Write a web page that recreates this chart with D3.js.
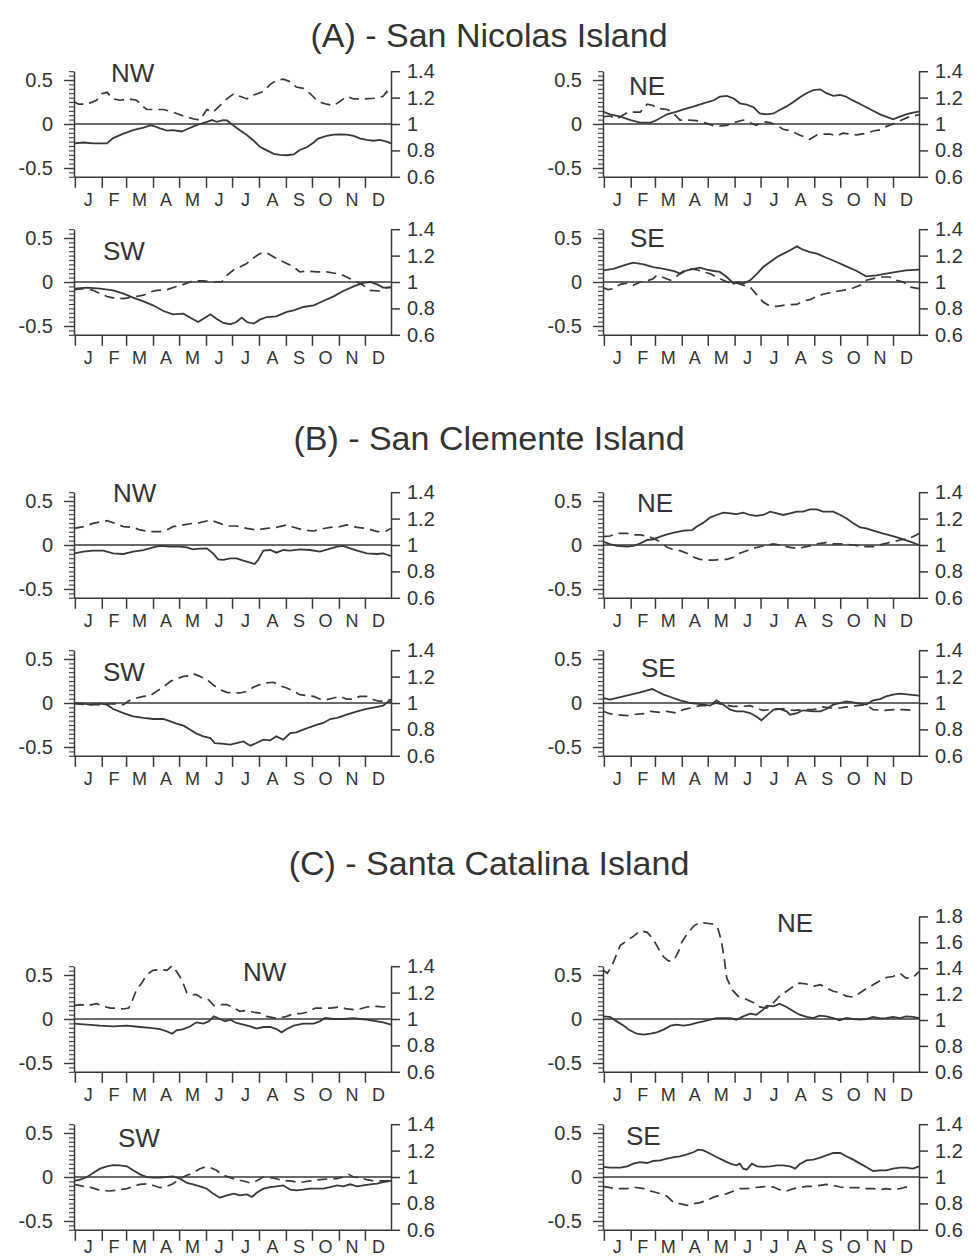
<!DOCTYPE html>
<html><head><meta charset="utf-8">
<script src="https://cdn.jsdelivr.net/npm/d3@7"></script>
<style>
body{margin:0;background:#fff}
svg{display:block}
text{font-family:"Liberation Sans",Arial,sans-serif;fill:#333}
</style>
</head><body>
<svg id="chart" width="978" height="1258"></svg>
<script>
// ---------- categories / ticks ----------
const months = ["J","F","M","A","M","J","J","A","S","O","N","D"];
const monthStarts = [1,32,60,91,121,152,182,213,244,274,305,335];
const leftTicks = [-0.5, 0, 0.5];
const rightTicks = [0.6, 0.8, 1, 1.2, 1.4];
const rightTicksTall = [0.6, 0.8, 1, 1.2, 1.4, 1.6, 1.8];
const titles = ["(A) - San Nicolas Island", "(B) - San Clemente Island", "(C) - Santa Catalina Island"];
const sectors = ["NW", "NE", "SW", "SE"];

// ---------- series: [day of year, value] ----------
// (A) San Nicolas Island
const A_NW_solid = [[0,-0.22],[11,-0.21],[22,-0.22],[38,-0.22],[45,-0.16],[57,-0.11],[68,-0.07],[80,-0.04],[88,-0.015],[91,-0.02],[99,-0.05],[107,-0.075],[114,-0.07],[124,-0.085],[130,-0.06],[137,-0.03],[145,0],[153,0.025],[159,0.045],[164,0.025],[172,0.045],[176,0.04],[184,-0.02],[191,-0.07],[199,-0.125],[207,-0.19],[214,-0.26],[222,-0.30],[230,-0.34],[237,-0.35],[245,-0.355],[253,-0.345],[260,-0.295],[268,-0.265],[276,-0.21],[281,-0.165],[291,-0.135],[299,-0.12],[306,-0.117],[314,-0.12],[322,-0.135],[329,-0.163],[337,-0.18],[345,-0.19],[352,-0.18],[360,-0.2],[365,-0.22]];
const A_NW_dash = [[0,1.17],[5,1.15],[15,1.15],[26,1.18],[32,1.23],[38,1.24],[45,1.19],[53,1.18],[63,1.19],[72,1.18],[80,1.13],[84,1.11],[91,1.11],[103,1.11],[114,1.09],[126,1.06],[137,1.04],[145,1.03],[153,1.11],[160,1.09],[168,1.14],[176,1.19],[184,1.23],[191,1.21],[199,1.19],[207,1.22],[218,1.245],[226,1.30],[233,1.33],[241,1.34],[249,1.32],[256,1.28],[264,1.27],[272,1.23],[281,1.17],[291,1.15],[299,1.14],[306,1.17],[314,1.21],[322,1.19],[333,1.19],[345,1.195],[356,1.21],[360,1.245],[364,1.195]];
const A_NE_solid = [[0,0.14],[8,0.11],[20,0.083],[32,0.045],[43,0.015],[55,0.015],[62,0.045],[74,0.11],[85,0.14],[93,0.167],[105,0.2],[116,0.235],[128,0.27],[135,0.31],[143,0.32],[151,0.29],[158,0.235],[166,0.22],[174,0.19],[181,0.12],[189,0.11],[197,0.12],[204,0.16],[212,0.2],[220,0.25],[227,0.3],[235,0.35],[243,0.386],[251,0.394],[258,0.35],[266,0.32],[274,0.33],[281,0.31],[289,0.265],[297,0.227],[304,0.19],[312,0.15],[320,0.11],[327,0.083],[335,0.053],[343,0.083],[350,0.11],[358,0.13],[365,0.14]];
const A_NE_dash = [[0,1.055],[8,1.06],[16,1.04],[28,1.086],[35,1.09],[43,1.09],[51,1.15],[58,1.14],[62,1.12],[74,1.11],[80,1.09],[89,1.03],[97,1.03],[108,1.025],[120,1.005],[128,0.985],[135,0.985],[143,0.99],[151,1.01],[162,1.03],[170,1.01],[177,0.99],[185,1.018],[193,1.01],[201,0.99],[208,0.96],[216,0.95],[227,0.917],[239,0.884],[247,0.917],[254,0.924],[262,0.924],[270,0.91],[277,0.93],[285,0.924],[293,0.917],[304,0.93],[312,0.947],[320,0.955],[327,0.98],[335,1.0],[343,1.025],[354,1.055],[365,1.07]];
const A_SW_solid = [[0,-0.076],[15,-0.064],[30,-0.076],[45,-0.095],[57,-0.133],[68,-0.178],[80,-0.22],[91,-0.265],[103,-0.33],[114,-0.367],[126,-0.36],[136,-0.417],[143,-0.455],[149,-0.417],[157,-0.367],[164,-0.417],[172,-0.466],[180,-0.48],[187,-0.455],[193,-0.405],[199,-0.455],[207,-0.473],[214,-0.428],[222,-0.398],[233,-0.39],[245,-0.34],[253,-0.322],[264,-0.284],[276,-0.265],[287,-0.216],[299,-0.163],[310,-0.102],[322,-0.05],[333,-0.011],[341,0],[349,-0.027],[356,-0.064],[365,-0.064]];
const A_SW_dash = [[0,0.942],[11,0.95],[22,0.937],[30,0.912],[38,0.89],[45,0.88],[57,0.874],[68,0.886],[80,0.9],[88,0.924],[95,0.937],[107,0.942],[116,0.962],[126,0.982],[137,1.008],[149,1.008],[161,1.0],[170,1.0],[176,1.05],[184,1.093],[191,1.114],[199,1.14],[207,1.184],[214,1.215],[222,1.22],[230,1.19],[237,1.164],[245,1.14],[253,1.114],[260,1.076],[268,1.083],[280,1.076],[291,1.076],[303,1.063],[310,1.05],[318,1.025],[326,1.0],[333,0.975],[341,0.937],[352,0.932],[360,0.957],[365,0.962]];
const A_SE_solid = [[0,0.133],[12,0.15],[24,0.19],[35,0.22],[47,0.2],[58,0.17],[70,0.15],[82,0.125],[89,0.095],[97,0.133],[105,0.15],[112,0.163],[120,0.14],[128,0.125],[135,0.114],[143,0.057],[151,-0.019],[156,0],[162,-0.019],[170,0.019],[178,0.095],[185,0.17],[193,0.227],[201,0.284],[208,0.32],[216,0.36],[224,0.405],[231,0.367],[239,0.34],[247,0.322],[258,0.276],[270,0.227],[281,0.178],[293,0.125],[304,0.064],[316,0.076],[327,0.095],[339,0.114],[350,0.133],[365,0.14]];
const A_SE_dash = [[0,0.957],[6,0.942],[12,0.95],[20,0.982],[28,0.992],[35,0.975],[43,1.0],[51,1.008],[58,1.025],[62,1.05],[68,1.038],[78,1.013],[85,1.043],[93,1.083],[101,1.1],[108,1.093],[116,1.076],[124,1.063],[131,1.038],[139,1.013],[147,0.992],[154,0.992],[162,0.975],[170,0.962],[178,0.9],[185,0.848],[193,0.816],[201,0.816],[208,0.823],[216,0.828],[224,0.83],[231,0.856],[239,0.866],[247,0.891],[254,0.907],[266,0.924],[277,0.937],[285,0.944],[297,0.975],[304,1.013],[312,1.025],[320,1.038],[331,1.038],[339,1.013],[347,1.0],[354,0.962],[365,0.95]];
// (B) San Clemente Island
const B_NW_solid = [[0,-0.095],[11,-0.076],[22,-0.064],[34,-0.064],[45,-0.095],[57,-0.102],[68,-0.076],[80,-0.057],[91,-0.027],[99,-0.011],[111,-0.019],[122,-0.019],[130,-0.027],[137,-0.05],[145,-0.042],[153,-0.038],[160,-0.095],[166,-0.163],[172,-0.17],[180,-0.152],[187,-0.152],[195,-0.178],[203,-0.2],[208,-0.216],[212,-0.17],[218,-0.064],[226,-0.057],[233,-0.087],[241,-0.057],[249,-0.064],[260,-0.05],[272,-0.057],[283,-0.076],[295,-0.042],[303,-0.019],[310,-0.011],[318,-0.038],[326,-0.064],[337,-0.095],[349,-0.102],[356,-0.095],[365,-0.125]];
const B_NW_dash = [[0,1.126],[11,1.139],[22,1.164],[38,1.184],[45,1.169],[57,1.139],[68,1.134],[76,1.114],[88,1.101],[99,1.101],[107,1.114],[114,1.139],[126,1.152],[137,1.164],[145,1.169],[157,1.189],[168,1.164],[176,1.144],[187,1.144],[199,1.126],[210,1.114],[222,1.126],[233,1.134],[245,1.152],[253,1.134],[264,1.114],[276,1.106],[283,1.119],[295,1.134],[306,1.139],[314,1.152],[326,1.134],[337,1.126],[349,1.101],[360,1.106],[365,1.126]];
const B_NE_solid = [[0,0.038],[8,0.011],[16,-0.011],[28,-0.019],[35,-0.011],[43,0.019],[51,0.057],[58,0.064],[66,0.095],[74,0.121],[82,0.14],[93,0.163],[103,0.17],[108,0.208],[116,0.254],[124,0.314],[131,0.341],[139,0.367],[147,0.36],[154,0.352],[162,0.367],[170,0.341],[177,0.33],[185,0.341],[193,0.379],[201,0.36],[208,0.341],[216,0.36],[224,0.379],[231,0.379],[239,0.405],[247,0.405],[254,0.379],[266,0.379],[274,0.341],[281,0.303],[289,0.246],[297,0.2],[304,0.19],[312,0.163],[323,0.133],[335,0.102],[347,0.064],[358,0.027],[365,0]];
const B_NE_dash = [[0,1.063],[8,1.068],[16,1.088],[28,1.088],[35,1.076],[43,1.076],[51,1.068],[58,1.05],[66,1.025],[74,0.982],[82,0.962],[89,0.957],[97,0.937],[105,0.907],[112,0.891],[120,0.886],[128,0.886],[135,0.891],[143,0.891],[151,0.907],[158,0.937],[166,0.957],[174,0.975],[181,0.987],[189,1.0],[197,1.008],[204,1.0],[216,0.982],[224,0.975],[231,0.982],[243,1.0],[251,1.013],[258,1.018],[266,1.008],[277,1.008],[289,1.0],[300,0.987],[312,0.987],[324,1.008],[335,1.025],[343,1.038],[354,1.05],[362,1.076],[365,1.088]];
const B_SW_solid = [[0,0],[11,-0.008],[18,-0.019],[30,-0.008],[38,-0.019],[45,-0.068],[57,-0.114],[68,-0.152],[80,-0.17],[91,-0.182],[103,-0.182],[111,-0.208],[118,-0.235],[126,-0.258],[134,-0.303],[141,-0.348],[149,-0.379],[157,-0.398],[162,-0.455],[170,-0.462],[180,-0.473],[187,-0.455],[195,-0.436],[203,-0.485],[210,-0.455],[218,-0.417],[226,-0.424],[233,-0.379],[241,-0.417],[249,-0.341],[256,-0.333],[264,-0.303],[272,-0.273],[280,-0.246],[287,-0.227],[295,-0.182],[303,-0.17],[314,-0.133],[326,-0.095],[337,-0.068],[349,-0.045],[356,-0.03],[362,0.019],[365,0.019]];
const B_SW_dash = [[0,0.995],[15,0.987],[30,0.987],[45,0.995],[57,0.987],[64,1.02],[72,1.038],[80,1.05],[88,1.056],[95,1.088],[103,1.121],[111,1.164],[118,1.182],[126,1.202],[134,1.207],[137,1.222],[145,1.202],[153,1.177],[160,1.139],[168,1.101],[176,1.081],[184,1.076],[191,1.076],[199,1.088],[207,1.121],[214,1.139],[222,1.152],[230,1.157],[237,1.131],[245,1.114],[253,1.088],[260,1.063],[268,1.056],[276,1.05],[283,1.03],[291,1.025],[299,1.038],[306,1.05],[314,1.03],[322,1.03],[329,1.05],[337,1.05],[345,1.025],[352,1.013],[360,1.02],[365,1.025]];
const B_SE_solid = [[0,0.057],[8,0.038],[20,0.068],[32,0.095],[43,0.121],[51,0.144],[57,0.159],[62,0.133],[70,0.095],[78,0.068],[89,0.03],[101,0],[108,-0.008],[116,-0.019],[124,-0.03],[131,0.03],[139,-0.019],[147,-0.076],[154,-0.095],[162,-0.095],[170,-0.114],[178,-0.159],[183,-0.197],[189,-0.144],[197,-0.076],[204,-0.068],[212,-0.095],[216,-0.133],[224,-0.114],[231,-0.083],[243,-0.095],[251,-0.095],[258,-0.068],[266,-0.019],[274,0],[281,0.019],[289,0.008],[297,-0.008],[304,-0.019],[312,0.03],[320,0.045],[327,0.076],[335,0.095],[343,0.106],[354,0.095],[365,0.083]];
const B_SE_dash = [[0,0.937],[8,0.919],[16,0.912],[28,0.904],[35,0.912],[47,0.919],[55,0.937],[66,0.929],[74,0.937],[85,0.924],[93,0.95],[101,0.962],[112,0.98],[120,0.98],[131,1.0],[139,0.987],[150,0.975],[162,0.975],[170,0.98],[177,0.962],[185,0.944],[193,0.95],[201,0.955],[208,0.955],[220,0.944],[231,0.95],[243,0.95],[254,0.97],[262,0.962],[274,0.962],[281,0.97],[293,0.98],[304,0.987],[312,0.95],[324,0.944],[335,0.95],[347,0.95],[358,0.944]];
// (C) Santa Catalina Island
const C_NW_solid = [[0,-0.053],[15,-0.064],[30,-0.076],[45,-0.083],[61,-0.076],[76,-0.091],[88,-0.102],[99,-0.114],[107,-0.14],[113,-0.167],[118,-0.129],[126,-0.114],[134,-0.083],[141,-0.038],[149,-0.053],[155,-0.027],[161,0.03],[168,0],[174,-0.027],[180,-0.008],[187,-0.045],[195,-0.064],[203,-0.083],[210,-0.11],[218,-0.091],[226,-0.091],[233,-0.114],[239,-0.152],[245,-0.114],[253,-0.076],[264,-0.053],[276,-0.053],[283,-0.027],[289,0.011],[299,0],[310,0],[322,0.011],[329,0],[337,-0.008],[349,-0.027],[356,-0.038],[365,-0.064]];
const C_NW_dash = [[0,1.101],[7,1.109],[15,1.101],[26,1.116],[34,1.096],[42,1.083],[49,1.083],[57,1.076],[63,1.083],[66,1.121],[72,1.222],[78,1.273],[84,1.336],[91,1.369],[99,1.374],[107,1.369],[113,1.404],[118,1.361],[124,1.298],[130,1.197],[136,1.184],[141,1.184],[147,1.159],[155,1.146],[161,1.101],[168,1.109],[176,1.109],[184,1.083],[191,1.058],[199,1.066],[207,1.051],[214,1.045],[222,1.02],[230,1.008],[237,1.008],[245,1.02],[253,1.04],[260,1.04],[268,1.051],[278,1.083],[287,1.083],[295,1.083],[306,1.091],[314,1.076],[322,1.071],[329,1.076],[337,1.091],[349,1.096],[356,1.091],[365,1.101]];
const C_NE_solid = [[0,0.03],[8,0.023],[16,-0.027],[24,-0.076],[31,-0.129],[39,-0.167],[47,-0.178],[55,-0.167],[62,-0.152],[70,-0.121],[78,-0.076],[85,-0.064],[93,-0.076],[101,-0.064],[108,-0.045],[116,-0.027],[124,-0.008],[131,0.011],[139,0.011],[147,0.011],[154,-0.008],[162,0.03],[170,0.061],[177,0.049],[185,0.106],[189,0.152],[197,0.144],[204,0.174],[212,0.136],[220,0.087],[227,0.049],[235,0.023],[243,0.011],[250,0.038],[258,0.03],[266,0.011],[273,-0.015],[281,0.011],[289,0],[297,-0.008],[304,0],[312,0.023],[320,0.008],[327,0.011],[335,0.023],[343,0.011],[350,0.03],[358,0.023],[365,0.011]];
const C_NE_dash = [[0,1.386],[5,1.361],[10,1.412],[16,1.513],[20,1.576],[28,1.614],[35,1.646],[43,1.689],[51,1.677],[58,1.626],[64,1.551],[70,1.487],[76,1.455],[82,1.462],[87,1.525],[91,1.601],[97,1.664],[105,1.727],[112,1.753],[120,1.747],[128,1.74],[133,1.702],[137,1.601],[140,1.475],[143,1.323],[149,1.235],[156,1.184],[166,1.159],[174,1.134],[181,1.101],[189,1.091],[197,1.134],[204,1.184],[212,1.222],[220,1.26],[227,1.285],[235,1.278],[243,1.26],[251,1.273],[258,1.247],[266,1.222],[274,1.21],[281,1.184],[289,1.177],[297,1.21],[304,1.242],[312,1.273],[320,1.303],[327,1.328],[335,1.336],[343,1.361],[350,1.323],[358,1.328],[365,1.374]];
const C_SW_solid = [[0,-0.045],[7,-0.03],[15,0],[22,0.045],[30,0.095],[38,0.121],[45,0.136],[53,0.133],[61,0.121],[68,0.076],[76,0.03],[84,0],[91,-0.008],[99,-0.008],[107,0],[114,0.008],[122,-0.019],[130,-0.068],[137,-0.083],[145,-0.106],[153,-0.133],[160,-0.189],[168,-0.235],[176,-0.208],[184,-0.189],[191,-0.208],[199,-0.197],[205,-0.227],[210,-0.182],[218,-0.133],[226,-0.114],[233,-0.106],[241,-0.095],[249,-0.144],[256,-0.152],[264,-0.144],[272,-0.133],[280,-0.133],[287,-0.133],[295,-0.114],[303,-0.095],[310,-0.106],[318,-0.083],[326,-0.106],[333,-0.095],[341,-0.083],[349,-0.076],[356,-0.057],[365,-0.045]];
const C_SW_dash = [[0,0.944],[11,0.929],[18,0.924],[30,0.899],[41,0.894],[53,0.904],[61,0.912],[68,0.929],[76,0.944],[84,0.949],[91,0.937],[99,0.919],[107,0.929],[114,0.949],[122,0.987],[130,1.013],[137,1.03],[145,1.063],[151,1.076],[157,1.071],[164,1.051],[172,1.013],[180,0.995],[187,0.98],[195,0.97],[203,0.955],[210,0.97],[218,1.0],[226,0.995],[233,0.987],[241,0.97],[249,0.97],[256,0.962],[264,0.962],[272,0.97],[283,0.98],[295,0.987],[303,0.987],[310,1.0],[316,1.02],[322,1.0],[329,0.995],[337,0.98],[345,0.97],[352,0.97],[360,0.97],[365,0.975]];
const C_SE_solid = [[0,0.114],[8,0.106],[20,0.106],[28,0.121],[35,0.152],[43,0.17],[51,0.159],[58,0.182],[66,0.189],[74,0.208],[82,0.227],[89,0.235],[97,0.258],[105,0.284],[110,0.311],[116,0.303],[124,0.265],[131,0.227],[139,0.189],[147,0.152],[154,0.133],[158,0.152],[162,0.095],[166,0.083],[172,0.152],[178,0.121],[185,0.114],[193,0.121],[201,0.133],[208,0.133],[216,0.121],[222,0.095],[227,0.144],[235,0.189],[243,0.197],[251,0.22],[258,0.246],[266,0.273],[274,0.273],[281,0.235],[289,0.197],[297,0.152],[304,0.114],[312,0.068],[320,0.076],[327,0.076],[335,0.095],[343,0.106],[350,0.106],[358,0.095],[365,0.121]];
const C_SE_dash = [[0,0.929],[8,0.919],[16,0.912],[28,0.912],[35,0.924],[47,0.912],[55,0.894],[66,0.874],[74,0.854],[82,0.803],[89,0.798],[97,0.785],[105,0.798],[112,0.806],[120,0.823],[128,0.848],[135,0.861],[143,0.874],[151,0.894],[158,0.912],[166,0.912],[174,0.919],[181,0.924],[189,0.929],[197,0.924],[204,0.904],[212,0.894],[220,0.912],[227,0.919],[235,0.929],[243,0.929],[251,0.937],[258,0.944],[266,0.937],[274,0.924],[281,0.919],[289,0.919],[297,0.919],[304,0.912],[312,0.912],[320,0.904],[327,0.912],[335,0.904],[343,0.912],[350,0.924],[358,0.929]];

// ---------- layout ----------
const colX = [[74, 391], [603, 919]];
const rowZero = [[124, 282], [545, 703], [1019, 1177]];
const titleY = [47, 450, 875];
const half = 52.8; // px for 0.6 on the left axis
const labelPos = {
  A: {NW:[37,-42], NE:[26,-29], SW:[29,-22], SE:[27,-35]},
  B: {NW:[39,-43], NE:[34,-33], SW:[29,-22], SE:[38,-26]},
  C: {NW:[169,-38], NE:[174,-87], SW:[44,-30], SE:[23,-32]}
};
const seriesData = {
  A: {NW:[A_NW_solid,A_NW_dash], NE:[A_NE_solid,A_NE_dash], SW:[A_SW_solid,A_SW_dash], SE:[A_SE_solid,A_SE_dash]},
  B: {NW:[B_NW_solid,B_NW_dash], NE:[B_NE_solid,B_NE_dash], SW:[B_SW_solid,B_SW_dash], SE:[B_SE_solid,B_SE_dash]},
  C: {NW:[C_NW_solid,C_NW_dash], NE:[C_NE_solid,C_NE_dash], SW:[C_SW_solid,C_SW_dash], SE:[C_SE_solid,C_SE_dash]}
};

const ink = "#383838";
const FONT = '"Liberation Sans", Arial, sans-serif';
const svg = d3.select("#chart");

["A","B","C"].forEach((grp, gi) => {
  svg.append("text").attr("x", 489).attr("y", titleY[gi])
    .attr("text-anchor", "middle").attr("font-size", 34).text(titles[gi]);

  sectors.forEach((sec, si) => {
    const col = si % 2, row = Math.floor(si / 2);
    const [x0, x1] = colX[col];
    const y0 = rowZero[gi][row];
    const tall = (grp === "C" && sec === "NE");
    const rTicks = tall ? rightTicksTall : rightTicks;

    const x = d3.scaleLinear().domain([0, 365]).range([x0, x1]);
    const yL = d3.scaleLinear().domain([-0.6, 0.6]).range([y0 + half, y0 - half]);
    const yR = d3.scaleLinear().domain([0.6, tall ? 1.8 : 1.4])
      .range([y0 + half, tall ? y0 - 2 * half + 3 : y0 - half]);

    const g = svg.append("g");

    // zero line
    g.append("line").attr("x1", x0).attr("x2", x1).attr("y1", yL(0)).attr("y2", yL(0))
      .attr("stroke", ink).attr("stroke-width", 1.4);

    // left axis: minor ticks then major ticks
    const minor = d3.range(-0.6, 0.6001, 0.05).map(v => +v.toFixed(2));
    g.append("g").attr("transform", `translate(${x0},0)`)
      .call(d3.axisLeft(yL).tickValues(minor).tickSize(5).tickSizeOuter(0).tickFormat(""))
      .call(a => a.selectAll("line").attr("stroke", ink).attr("stroke-width", 1.1))
      .call(a => a.selectAll("path").attr("stroke", ink).attr("stroke-width", 1.5));
    g.append("g").attr("transform", `translate(${x0},0)`)
      .call(d3.axisLeft(yL).tickValues(leftTicks).tickSize(10).tickSizeOuter(0).tickPadding(11)
        .tickFormat(d => String(d)))
      .call(a => a.select("path").remove())
      .call(a => a.selectAll("line").attr("stroke", ink).attr("stroke-width", 1.4))
      .call(a => a.selectAll("text").attr("font-size", 20).attr("fill", "#333").attr("font-family", FONT));

    // right axis
    g.append("g").attr("transform", `translate(${x1},0)`)
      .call(d3.axisRight(yR).tickValues(rTicks).tickSize(9).tickSizeOuter(0).tickPadding(7)
        .tickFormat(d => String(d)))
      .call(a => a.selectAll("line,path").attr("stroke", ink).attr("stroke-width", 1.5))
      .call(a => a.selectAll("text").attr("font-size", 20).attr("fill", "#333").attr("font-family", FONT));

    // bottom axis
    const axisY = yL(-0.6);
    g.append("g").attr("transform", `translate(0,${axisY})`)
      .call(d3.axisBottom(x).tickValues(monthStarts).tickSize(11).tickSizeOuter(0).tickFormat(""))
      .call(a => a.selectAll("line,path").attr("stroke", ink).attr("stroke-width", 1.5));
    const labY = Math.min(axisY + 29, 1253);
    months.forEach((m, i) => {
      const end = i < 11 ? monthStarts[i + 1] : 366;
      g.append("text").attr("x", x((monthStarts[i] + end) / 2)).attr("y", labY)
        .attr("text-anchor", "middle").attr("font-size", 18).text(m);
    });

    // series
    const [solid, dash] = seriesData[grp][sec];
    const lineL = d3.line().x(d => x(d[0])).y(d => yL(d[1]));
    const lineR = d3.line().x(d => x(d[0])).y(d => yR(d[1]));
    g.append("path").attr("d", lineR(dash)).attr("fill", "none").attr("stroke", ink)
      .attr("stroke-width", 1.7).attr("stroke-dasharray", "10,6");
    g.append("path").attr("d", lineL(solid)).attr("fill", "none").attr("stroke", ink)
      .attr("stroke-width", 1.8);

    // panel label
    const lp = labelPos[grp][sec];
    g.append("text").attr("x", x0 + lp[0]).attr("y", y0 + lp[1]).attr("font-size", 26).text(sec);
  });
});
</script>
</body></html>
